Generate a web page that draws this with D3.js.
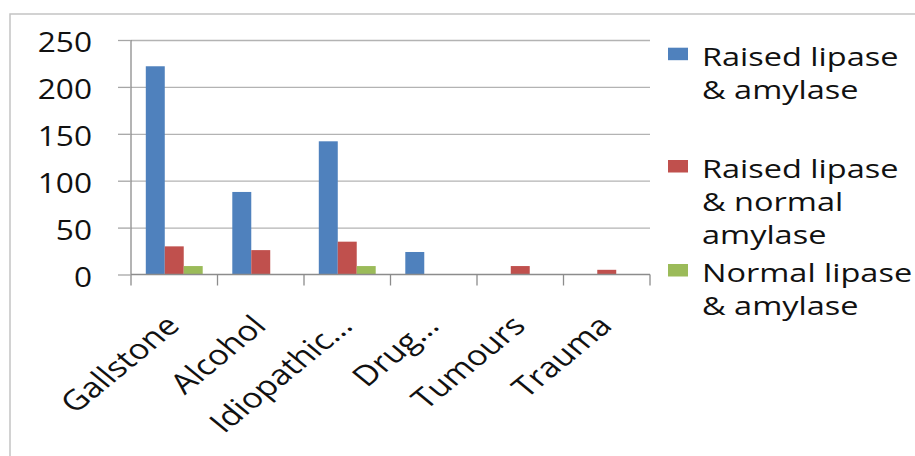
<!DOCTYPE html>
<html>
<head>
<meta charset="utf-8">
<script src="https://cdn.jsdelivr.net/npm/d3@7"></script>
<style>
  html, body { margin: 0; padding: 0; background: #fff; }
  svg { display: block; }
  text { font-family: "Open Sans", sans-serif; fill: #111; }
</style>
</head>
<body>
<svg id="chart" width="915" height="456"></svg>
<script>
// ---- data ----
const categories = ["Gallstone", "Alcohol", "Idiopathic…", "Drug…", "Tumours", "Trauma"];
const seriesNames = ["Raised lipase & amylase", "Raised lipase & normal amylase", "Normal lipase & amylase"];
const raisedLipaseAmylase = [222, 88, 142, 24, 0, 0];
const raisedLipaseNormalAmylase = [30, 26, 35, 0, 9, 5];
const normalLipaseAmylase = [9, 0, 9, 0, 0, 0];
const yTickValues = [0, 50, 100, 150, 200, 250];
const legendLines = [
  ["Raised lipase", "& amylase"],
  ["Raised lipase", "& normal", "amylase"],
  ["Normal lipase", "& amylase"]
];
const seriesColors = ["#4F81BD", "#C0504D", "#9BBB59"];

const seriesValues = [raisedLipaseAmylase, raisedLipaseNormalAmylase, normalLipaseAmylase];
const rows = categories.map((c, i) => ({ cat: c, vals: seriesValues.map(s => s[i]) }));

// ---- layout ----
const svg = d3.select("#chart");
const plot = { left: 131, right: 650, top: 40, bottom: 274.5 };

// outer frame (top + left edges visible)
svg.append("path")
  .attr("d", `M10,456 L10,14 L915,14`)
  .attr("fill", "none").attr("stroke", "#c4c4c4").attr("stroke-width", 1.5);

const x = d3.scaleBand().domain(categories).range([plot.left, plot.right]).paddingInner(0).paddingOuter(0);
const x1 = d3.scaleBand().domain(d3.range(seriesNames.length)).range([0, x.bandwidth()]).paddingInner(0).paddingOuter(0.78);
const y = d3.scaleLinear().domain([0, 250]).range([plot.bottom, plot.top]);

// gridlines
const grid = svg.append("g").attr("transform", `translate(${plot.left},0)`)
  .call(d3.axisLeft(y).tickValues(yTickValues.filter(v => v > 0)).tickSize(-(plot.right - plot.left)).tickFormat(""));
grid.select(".domain").remove();
grid.selectAll("line").attr("stroke", "#b3b3b3").attr("stroke-width", 1.3);

// y axis with outward ticks
const yAxis = svg.append("g").attr("transform", `translate(${plot.left},0)`)
  .call(d3.axisLeft(y).tickValues(yTickValues).tickSize(13).tickFormat(d3.format("d")));
yAxis.select(".domain").attr("d", `M0,${plot.top}V${plot.bottom + 11}`).attr("stroke", "#8c8c8c").attr("stroke-width", 1.3);
yAxis.selectAll(".tick line").attr("stroke", "#a6a6a6").attr("stroke-width", 1.3);
yAxis.selectAll(".tick text")
  .attr("x", null).attr("dy", null)
  .attr("text-anchor", "end")
  .attr("dominant-baseline", "central")
  .attr("transform", `translate(-39,1) scale(1.13,1)`)
  .style("font-size", "28px").style("fill", "#111");

// bars
const groups = svg.append("g").selectAll("g").data(rows).join("g")
  .attr("transform", d => `translate(${x(d.cat)},0)`);
groups.selectAll("rect").data(d => d.vals.map((v, i) => ({ v, i }))).join("rect")
  .attr("x", d => x1(d.i))
  .attr("width", x1.bandwidth())
  .attr("y", d => y(d.v))
  .attr("height", d => y(0) - y(d.v))
  .attr("fill", d => seriesColors[d.i]);

// x axis
const xAxis = svg.append("g").attr("transform", `translate(0,${plot.bottom})`)
  .call(d3.axisBottom(x).tickSize(0).tickPadding(0));
xAxis.select(".domain").attr("d", `M${plot.left},0H${plot.right}`).attr("stroke", "#8c8c8c").attr("stroke-width", 1.3);
// boundary tick marks
xAxis.selectAll(".bound").data(categories).join("line").attr("class", "bound")
  .attr("x1", d => x(d) + x.bandwidth()).attr("x2", d => x(d) + x.bandwidth())
  .attr("y1", 0).attr("y2", 11).attr("stroke", "#8c8c8c").attr("stroke-width", 1.3);
xAxis.selectAll(".tick text")
  .attr("y", null).attr("dy", null)
  .attr("text-anchor", "end")
  .attr("transform", `translate(7,53) scale(1.22,1) rotate(-45)`)
  .style("font-size", "28px").style("fill", "#111");

// legend
const legend = svg.append("g");
const legendTop = [65.7, 178, 282];
const lineH = 33;
legendLines.forEach((lines, i) => {
  const g = legend.append("g").attr("transform", `translate(0,${legendTop[i]})`);
  g.append("rect").attr("x", 668).attr("y", -18).attr("width", 20).attr("height", 12.5).attr("fill", seriesColors[i]);
  lines.forEach((t, j) => {
    g.append("text").attr("transform", `translate(702,${j * lineH}) scale(1.25,1)`)
      .style("font-size", "26px").text(t);
  });
});
</script>
</body>
</html>
